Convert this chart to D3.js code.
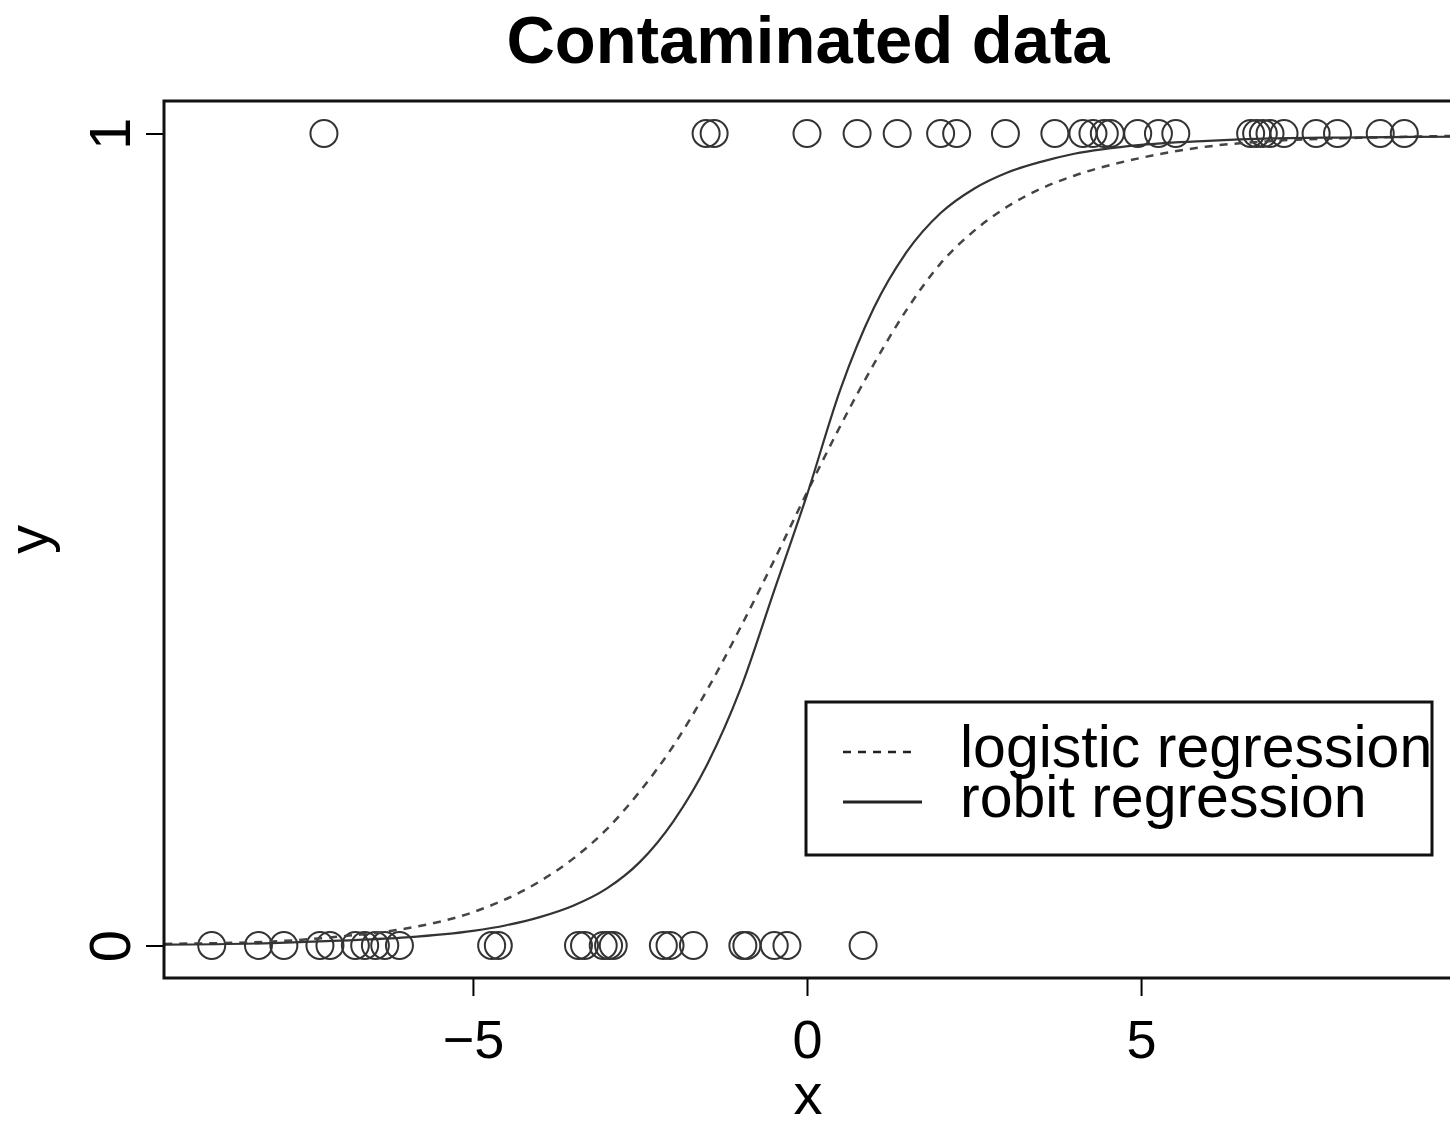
<!DOCTYPE html>
<html>
<head>
<meta charset="utf-8">
<script src="https://cdn.jsdelivr.net/npm/d3@7"></script>
<style>
  body { margin: 0; background: #fff; }
  svg { display: block; font-family: "Liberation Sans", Arial, sans-serif; }
</style>
</head>
<body>
<script>
// observations, y = 1
const xOnes = [-7.23, -1.51, -1.39, 0.0, 0.75, 1.35, 2.0, 2.24, 2.97, 3.71, 4.13, 4.28, 4.45, 4.54,
  4.95, 5.26, 5.52, 6.64, 6.73, 6.83, 6.93, 7.14, 7.62, 7.94, 8.58, 8.94]
// observations, y = 0
const xZeros = [-8.91, -8.21, -7.83, -7.29, -7.14, -6.76, -6.62, -6.46, -6.32, -6.10, -4.72, -4.62,
  -3.42, -3.33, -3.05, -2.97, -2.90, -2.15, -2.05, -1.70, -0.96, -0.90, -0.49, -0.30, 0.84]

// fitted curves: [x, p]
const logisticCurve = [[-9.62, 0.002], [-8, 0.005], [-7, 0.011], [-6, 0.021], [-5, 0.041],
  [-4, 0.079], [-3.5, 0.107], [-3, 0.143], [-2.5, 0.190], [-2, 0.246], [-1.5, 0.314], [-1, 0.391],
  [-0.5, 0.473], [0, 0.558], [0.5, 0.640], [1, 0.716], [1.5, 0.784], [2, 0.840], [2.5, 0.880],
  [3, 0.910], [3.5, 0.932], [4, 0.948], [5, 0.970], [6, 0.984], [7, 0.991], [8, 0.994], [9.65, 0.997]]
const robitCurve = [[-9.62, 0.001], [-8, 0.003], [-7, 0.006], [-6, 0.010], [-5, 0.018],
  [-4.5, 0.025], [-4, 0.035], [-3.5, 0.049], [-3, 0.070], [-2.5, 0.103], [-2, 0.153], [-1.5, 0.222],
  [-1, 0.315], [-0.5, 0.435], [0, 0.555], [0.5, 0.685], [1, 0.785], [1.5, 0.855], [2, 0.902],
  [2.5, 0.932], [3, 0.952], [3.5, 0.965], [4, 0.975], [5, 0.986], [6, 0.991], [7, 0.994],
  [8, 0.995], [9.65, 0.996]]

const xTicks = [-5, 0, 5]
const yTicks = [0, 1]
const legendLabels = ['logistic regression', 'robit regression']

const box = { left: 164, top: 101, right: 1452, bottom: 978 }

const svg = d3.select('body')
  .append('svg')
  .attr('width', 1450)
  .attr('height', 1121)

// R style 4% padding on both axes
const allX = xOnes.concat(xZeros)
const ext = d3.extent(allX)
const pad = (ext[1] - ext[0]) * 0.04

const x = d3.scaleLinear()
  .domain([ext[0] - pad, ext[1] + pad])
  .range([box.left, box.right])

const y = d3.scaleLinear()
  .domain([-0.04, 1.04])
  .range([box.bottom, box.top])

// title
svg.append('text')
  .attr('x', 808)
  .attr('y', 63)
  .attr('text-anchor', 'middle')
  .style('font-size', '67px')
  .style('font-weight', 'bold')
  .text('Contaminated data')

// axes
const xAxis = svg.append('g')
  .attr('transform', `translate(0, ${box.bottom})`)
  .call(d3.axisBottom(x).tickValues(xTicks).tickSize(18).tickFormat(d => d < 0 ? '\u2212' + Math.abs(d) : d))

xAxis.select('.domain').remove()
xAxis.selectAll('line').style('stroke', '#000').style('stroke-width', 2)
xAxis.selectAll('text')
  .attr('y', 80)
  .attr('dy', null)
  .style('font-size', '54px')
  .style('fill', '#000')

const yAxis = svg.append('g')
  .attr('transform', `translate(${box.left}, 0)`)
  .call(d3.axisLeft(y).tickValues(yTicks).tickSize(18).tickFormat(d3.format('d')))

yAxis.select('.domain').remove()
yAxis.selectAll('line').style('stroke', '#000').style('stroke-width', 2)
yAxis.selectAll('text')
  .attr('x', null)
  .attr('dy', null)
  .attr('text-anchor', 'middle')
  .attr('transform', 'translate(-34, 0) rotate(-90)')
  .style('font-size', '58px')
  .style('fill', '#000')

// axis labels
svg.append('text')
  .attr('x', 808)
  .attr('y', 1114)
  .attr('text-anchor', 'middle')
  .style('font-size', '58px')
  .text('x')

svg.append('text')
  .attr('transform', `translate(48, ${(box.top + box.bottom) / 2}) rotate(-90)`)
  .attr('text-anchor', 'middle')
  .style('font-size', '58px')
  .text('y')

// points
const pts = xOnes.map(d => ({ x: d, y: 1 })).concat(xZeros.map(d => ({ x: d, y: 0 })))

svg.append('g').selectAll('circle')
  .data(pts)
  .enter()
  .append('circle')
  .attr('cx', d => x(d.x))
  .attr('cy', d => y(d.y))
  .attr('r', 13.5)
  .style('fill', 'none')
  .style('stroke', '#333')
  .style('stroke-width', 2)

// curves
const line = d3.line()
  .x(d => x(d[0]))
  .y(d => y(d[1]))
  .curve(d3.curveMonotoneX)

svg.append('path')
  .datum(logisticCurve)
  .attr('d', line)
  .style('fill', 'none')
  .style('stroke', '#444')
  .style('stroke-width', 2.5)
  .style('stroke-dasharray', '8,7')

svg.append('path')
  .datum(robitCurve)
  .attr('d', line)
  .style('fill', 'none')
  .style('stroke', '#333')
  .style('stroke-width', 2.2)

// frame
svg.append('rect')
  .attr('x', box.left)
  .attr('y', box.top)
  .attr('width', box.right - box.left)
  .attr('height', box.bottom - box.top)
  .style('fill', 'none')
  .style('stroke', '#111')
  .style('stroke-width', 3)

// legend
const lg = svg.append('g')

lg.append('rect')
  .attr('x', 806)
  .attr('y', 702)
  .attr('width', 626)
  .attr('height', 153)
  .style('fill', '#fff')
  .style('stroke', '#111')
  .style('stroke-width', 3)

lg.append('line')
  .attr('x1', 843).attr('x2', 918)
  .attr('y1', 752).attr('y2', 752)
  .style('stroke', '#222')
  .style('stroke-width', 2.5)
  .style('stroke-dasharray', '8,7')

lg.append('line')
  .attr('x1', 843).attr('x2', 922)
  .attr('y1', 802).attr('y2', 802)
  .style('stroke', '#222')
  .style('stroke-width', 3)

lg.selectAll('text.lab')
  .data(legendLabels)
  .enter()
  .append('text')
  .attr('class', 'lab')
  .attr('x', 960)
  .attr('y', (d, i) => 767 + i * 50)
  .style('font-size', '59px')
  .text(d => d)
</script>
</body>
</html>
